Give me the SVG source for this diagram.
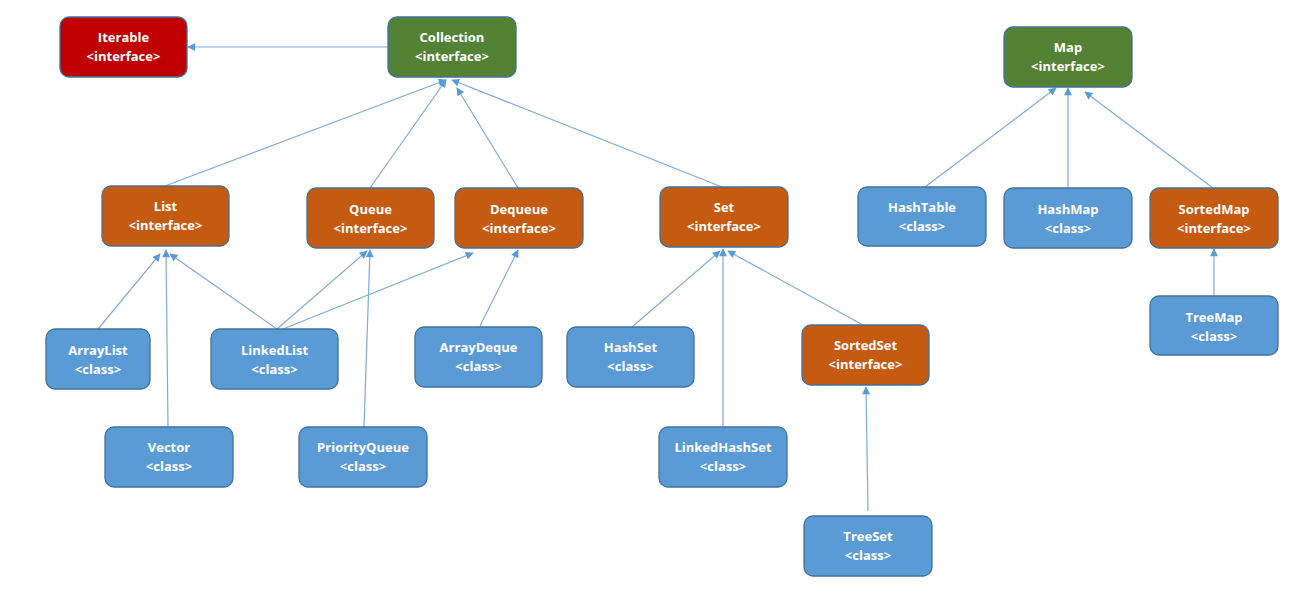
<svg xmlns="http://www.w3.org/2000/svg" width="1309" height="594" viewBox="0 0 1309 594">
<defs>
<marker id="arr" viewBox="0 0 10 10" refX="9" refY="5" markerWidth="9" markerHeight="8" markerUnits="userSpaceOnUse" orient="auto">
<path d="M0,0 L10,5 L0,10 z" fill="#5B9BD5"/>
</marker>
<style>
.n rect{stroke:#41719C;stroke-width:1.3}
.red rect{fill:#C00000}
.green rect{fill:#548235}
.orange rect{fill:#C55A11}
.blue rect{fill:#5B9BD5}
.n text{fill:#fff;font-family:"Open Sans","Liberation Sans",sans-serif;font-weight:bold;font-size:13px;text-anchor:middle}
.c line{stroke:#7FAADB;stroke-width:1.2;marker-end:url(#arr)}
</style>
</defs>
<rect width="1309" height="594" fill="#fff"/>
<g id="connectors" class="c">
<line x1="388" y1="47" x2="188" y2="47"/>
<line x1="165" y1="186" x2="446" y2="80"/>
<line x1="370" y1="188" x2="446" y2="80"/>
<line x1="518" y1="188" x2="457" y2="88"/>
<line x1="722" y1="187" x2="452" y2="80"/>
<line x1="925" y1="187" x2="1056" y2="88"/>
<line x1="1068" y1="188" x2="1068" y2="88"/>
<line x1="1213" y1="188" x2="1085" y2="92"/>
<line x1="1214" y1="296" x2="1214" y2="249"/>
<line x1="98" y1="329" x2="160" y2="254"/>
<line x1="168" y1="427" x2="166" y2="250"/>
<line x1="277" y1="329" x2="170" y2="254"/>
<line x1="277" y1="329" x2="367" y2="251"/>
<line x1="283" y1="329" x2="473" y2="253"/>
<line x1="364" y1="427" x2="370" y2="250"/>
<line x1="480" y1="326" x2="518" y2="250"/>
<line x1="632" y1="327" x2="720" y2="251"/>
<line x1="723" y1="427" x2="723" y2="249"/>
<line x1="863" y1="325" x2="728" y2="251"/>
<line x1="868" y1="511" x2="866" y2="387"/>
</g>
<g id="Iterable" class="n red"><rect x="60" y="17" width="127" height="60" rx="9"/><text x="123.5" y="42">Iterable</text><text x="123.5" y="61">&lt;interface&gt;</text></g>
<g id="Collection" class="n green"><rect x="388" y="17" width="128" height="60" rx="9"/><text x="452" y="42">Collection</text><text x="452" y="61">&lt;interface&gt;</text></g>
<g id="Map" class="n green"><rect x="1004" y="27" width="128" height="60" rx="9"/><text x="1068" y="52">Map</text><text x="1068" y="71">&lt;interface&gt;</text></g>
<g id="List" class="n orange"><rect x="102" y="186" width="127" height="60" rx="9"/><text x="165.5" y="211">List</text><text x="165.5" y="230">&lt;interface&gt;</text></g>
<g id="Queue" class="n orange"><rect x="307" y="188" width="127" height="60" rx="9"/><text x="370.5" y="214">Queue</text><text x="370.5" y="233">&lt;interface&gt;</text></g>
<g id="Dequeue" class="n orange"><rect x="455" y="188" width="128" height="60" rx="9"/><text x="519" y="214">Dequeue</text><text x="519" y="233">&lt;interface&gt;</text></g>
<g id="Set" class="n orange"><rect x="660" y="187" width="128" height="60" rx="9"/><text x="724" y="212">Set</text><text x="724" y="231">&lt;interface&gt;</text></g>
<g id="HashTable" class="n blue"><rect x="858" y="187" width="128" height="59" rx="9"/><text x="922" y="212">HashTable</text><text x="922" y="231">&lt;class&gt;</text></g>
<g id="HashMap" class="n blue"><rect x="1004" y="188" width="128" height="60" rx="9"/><text x="1068" y="214">HashMap</text><text x="1068" y="233">&lt;class&gt;</text></g>
<g id="SortedMap" class="n orange"><rect x="1150" y="188" width="128" height="60" rx="9"/><text x="1214" y="214">SortedMap</text><text x="1214" y="233">&lt;interface&gt;</text></g>
<g id="TreeMap" class="n blue"><rect x="1150" y="296" width="128" height="59" rx="9"/><text x="1214" y="322">TreeMap</text><text x="1214" y="341">&lt;class&gt;</text></g>
<g id="ArrayList" class="n blue"><rect x="46" y="329" width="104" height="60" rx="9"/><text x="98" y="355">ArrayList</text><text x="98" y="374">&lt;class&gt;</text></g>
<g id="LinkedList" class="n blue"><rect x="211" y="329" width="127" height="60" rx="9"/><text x="274.5" y="355">LinkedList</text><text x="274.5" y="374">&lt;class&gt;</text></g>
<g id="ArrayDeque" class="n blue"><rect x="415" y="327" width="127" height="60" rx="9"/><text x="478.5" y="352">ArrayDeque</text><text x="478.5" y="371">&lt;class&gt;</text></g>
<g id="HashSet" class="n blue"><rect x="567" y="327" width="127" height="60" rx="9"/><text x="630.5" y="352">HashSet</text><text x="630.5" y="371">&lt;class&gt;</text></g>
<g id="SortedSet" class="n orange"><rect x="802" y="325" width="127" height="60" rx="9"/><text x="865.5" y="350">SortedSet</text><text x="865.5" y="369">&lt;interface&gt;</text></g>
<g id="Vector" class="n blue"><rect x="105" y="427" width="128" height="60" rx="9"/><text x="169" y="452">Vector</text><text x="169" y="471">&lt;class&gt;</text></g>
<g id="PriorityQueue" class="n blue"><rect x="299" y="427" width="128" height="60" rx="9"/><text x="363" y="452">PriorityQueue</text><text x="363" y="471">&lt;class&gt;</text></g>
<g id="LinkedHashSet" class="n blue"><rect x="659" y="427" width="128" height="60" rx="9"/><text x="723" y="452">LinkedHashSet</text><text x="723" y="471">&lt;class&gt;</text></g>
<g id="TreeSet" class="n blue"><rect x="804" y="516" width="128" height="60" rx="9"/><text x="868" y="541">TreeSet</text><text x="868" y="560">&lt;class&gt;</text></g>
</svg>
